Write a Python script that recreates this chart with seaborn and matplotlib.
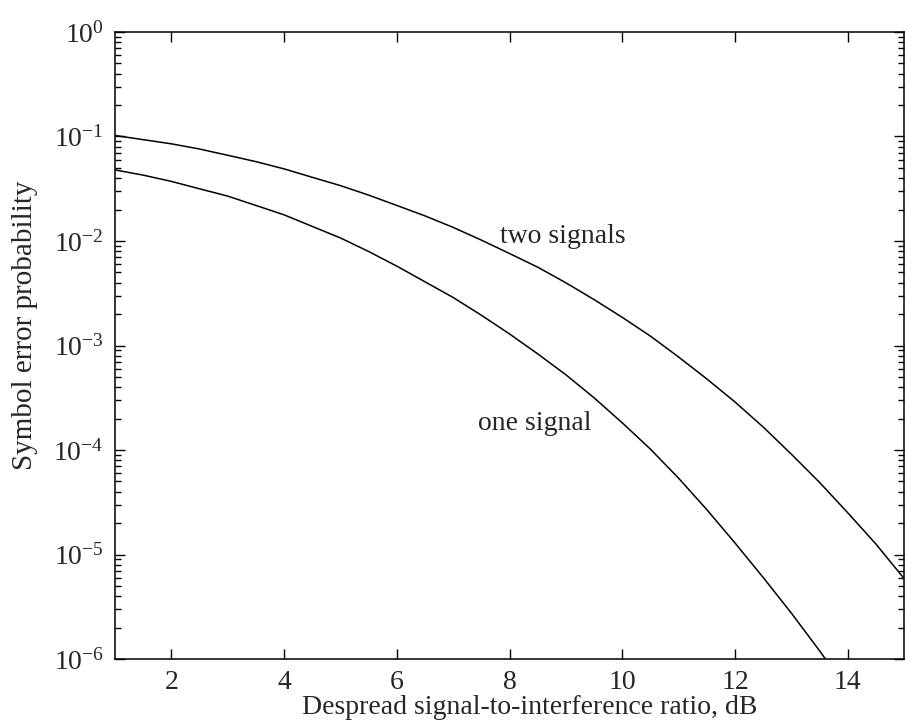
"""Symbol error probability vs despread SIR for one and two interfering signals."""
import matplotlib

matplotlib.use("Agg")

import matplotlib.pyplot as plt  # noqa: E402
import pandas as pd  # noqa: E402
import seaborn as sns  # noqa: E402
from matplotlib.ticker import LogLocator, NullFormatter  # noqa: E402

# values (every 0.5 dB)
sir_db = [1.0, 1.5, 2.0, 2.5, 3.0, 3.5, 4.0, 4.5, 5.0, 5.5, 6.0, 6.5, 7.0, 7.5, 8.0,
          8.5, 9.0, 9.5, 10.0, 10.5, 11.0, 11.5, 12.0, 12.5, 13.0, 13.5, 14.0, 14.5, 15.0]
pe_one_signal = [0.0479, 0.0427, 0.0372, 0.0316, 0.0269, 0.0219, 0.0178, 0.0138,
                 0.0107, 0.00794, 0.00575, 0.00407, 0.00288, 0.00195, 0.00129,
                 8.32e-4, 5.25e-4, 3.16e-4, 1.82e-4, 1.02e-4, 5.37e-5, 2.69e-5,
                 1.29e-5, 6.03e-6, 2.75e-6, 1.20e-6, 5.0e-7, 2.0e-7, 7.9e-8]
pe_two_signals = [0.1023, 0.0933, 0.0851, 0.0759, 0.0661, 0.0575, 0.0490, 0.0407,
                  0.0339, 0.0275, 0.0219, 0.0174, 0.0135, 0.0102, 0.00759,
                  0.00562, 0.00398, 0.00275, 0.00186, 0.00123, 7.76e-4, 4.79e-4,
                  2.88e-4, 1.66e-4, 9.12e-5, 4.90e-5, 2.51e-5, 1.26e-5, 5.89e-6]
x_ticks = [2, 4, 6, 8, 10, 12, 14]

sns.set_theme(style="ticks")
plt.rcParams["font.family"] = ["Liberation Serif", "DejaVu Serif"]
plt.rcParams["mathtext.fontset"] = "stix"

df = pd.DataFrame({
    "sir": sir_db * 2,
    "pe": pe_one_signal + pe_two_signals,
    "curve": ["one signal"] * len(sir_db) + ["two signals"] * len(sir_db),
})

fig = plt.figure(figsize=(9.05, 7.27), dpi=100)
ax = fig.add_axes([0.127, 0.0935, 0.872, 0.8625])
sns.lineplot(data=df, x="sir", y="pe", units="curve", estimator=None,
             color="black", linewidth=1.1, ax=ax)

ax.set_yscale("log")
ax.set_xlim(1, 15)
ax.set_ylim(1e-6, 1)
ax.set_xticks(x_ticks)
ax.yaxis.set_major_locator(LogLocator(base=10, numticks=10))
ax.yaxis.set_minor_locator(LogLocator(base=10, subs=range(2, 10), numticks=20))
ax.yaxis.set_minor_formatter(NullFormatter())
ax.tick_params(which="both", direction="in", top=True, right=True,
               labelsize=20, color="black", width=1)
ax.tick_params(which="major", length=7, pad=8)
ax.tick_params(which="minor", length=4)
for s in ax.spines.values():
    s.set_linewidth(1.1)
    s.set_color("black")

ax.set_xlabel("Despread signal-to-interference ratio, dB", fontsize=20)
ax.xaxis.set_label_coords(0.525, -0.058)
ax.set_ylabel("Symbol error probability", fontsize=21)
ax.yaxis.set_label_coords(-0.098, 0.533)

ax.text(8.95, 1.1e-2, "two signals", fontsize=20, ha="center", va="center")
ax.text(8.45, 1.8e-4, "one signal", fontsize=20, ha="center", va="center")

fig.savefig("out.png", dpi=100)
plt.close(fig)
